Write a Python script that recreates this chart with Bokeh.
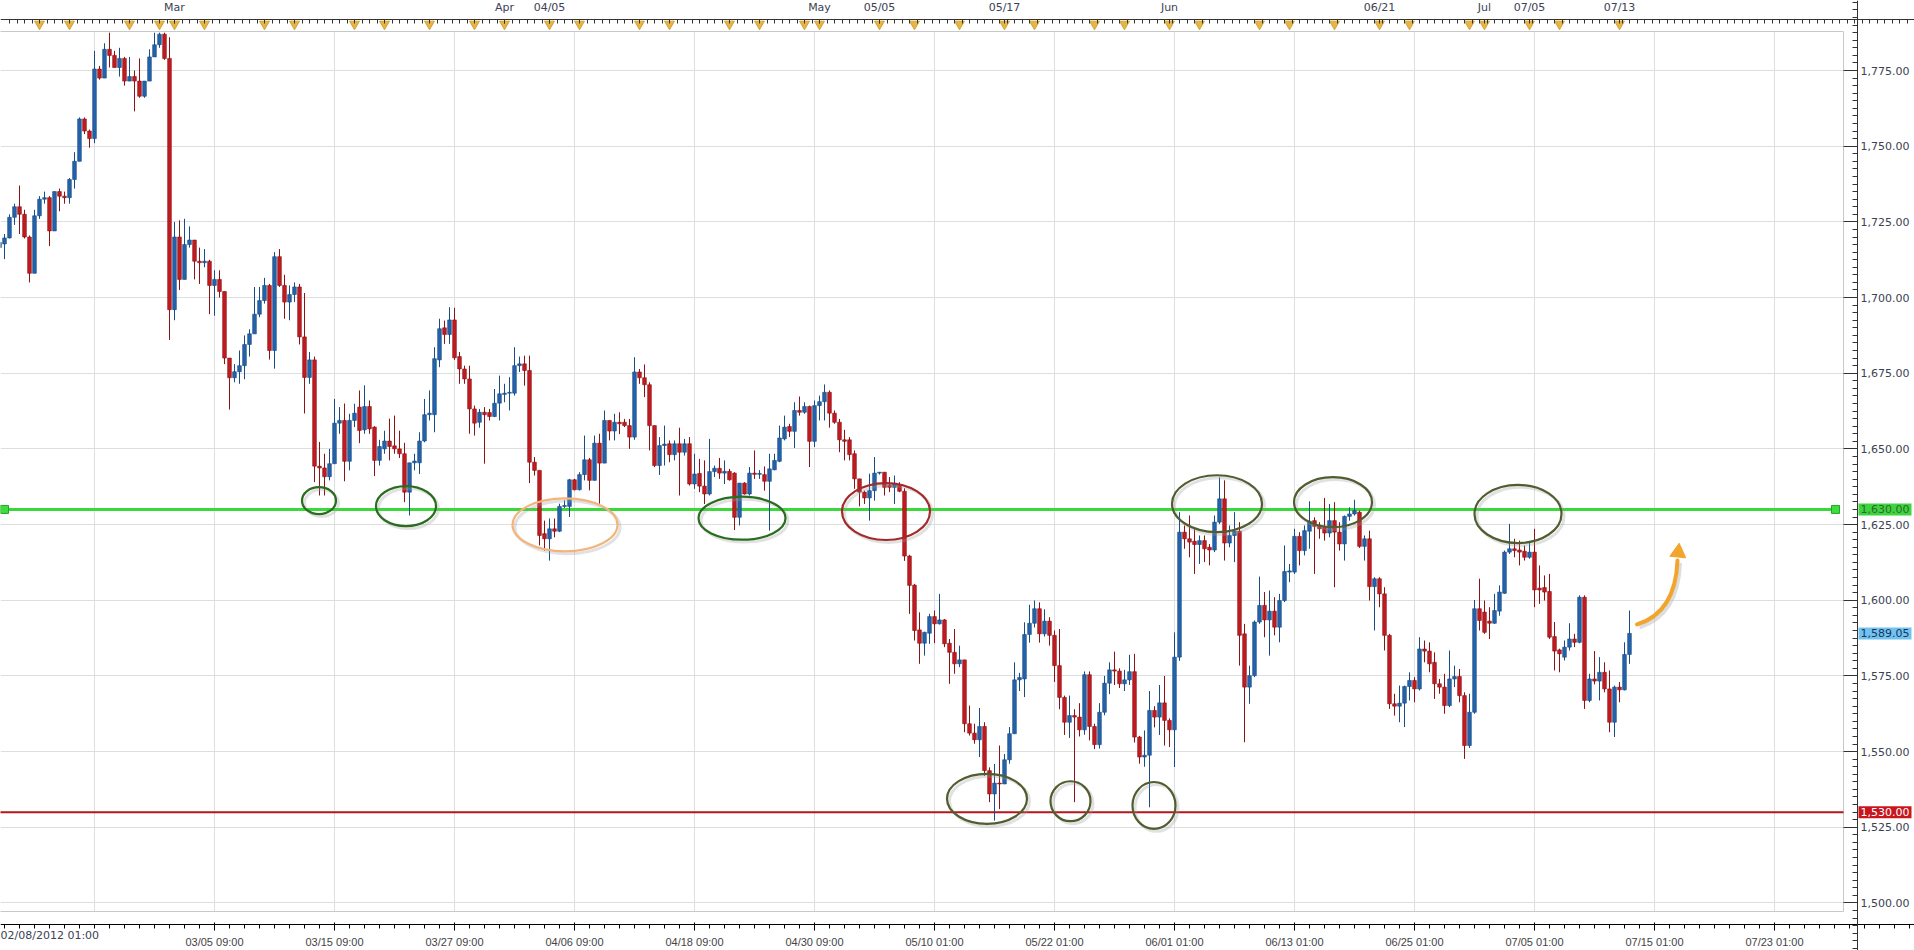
from bokeh.plotting import figure
from bokeh.models import (LinearAxis, FixedTicker, SingleIntervalTicker,
                          NumeralTickFormatter, Label, ColumnDataSource, Range1d)
from bokeh.embed import file_html
from bokeh.resources import INLINE

# ---------------- data (8-hour candles, index = candle number) ----------------
opens = [
    1716.5, 1717.7, 1719.7, 1726.5, 1730.0, 1727.5, 1720.0, 1708.0, 1727.0, 1732.5,
    1733.0, 1722.0, 1735.0, 1733.5, 1733.0, 1739.0, 1745.0, 1759.0, 1755.0, 1752.5,
    1775.5, 1772.5, 1782.0, 1780.0, 1776.0, 1779.0, 1771.5, 1773.0, 1771.5, 1766.5,
    1771.5, 1779.5, 1783.5, 1787.0, 1779.0, 1696.0, 1720.0, 1706.0, 1717.5, 1719.0,
    1712.0, 1711.5, 1712.0, 1704.0, 1706.0, 1702.0, 1680.0, 1673.5, 1675.5, 1677.5,
    1684.5, 1688.0, 1694.5, 1699.0, 1704.0, 1682.5, 1713.5, 1704.0, 1698.5, 1701.0,
    1703.5, 1687.0, 1673.6, 1679.4, 1644.3, 1643.7, 1640.8, 1645.1, 1658.5, 1659.4,
    1645.9, 1659.4, 1663.8, 1656.3, 1664.0, 1657.2, 1646.2, 1650.0, 1652.6, 1651.0,
    1650.0, 1648.4, 1635.7, 1645.4, 1645.4, 1652.6, 1661.3, 1661.3, 1679.4, 1690.0,
    1687.8, 1692.6, 1680.5, 1676.4, 1673.1, 1663.2, 1658.8, 1662.1, 1662.0, 1660.7,
    1665.1, 1668.0, 1668.4, 1668.4, 1677.5, 1678.1, 1675.9, 1645.6, 1642.9, 1622.0,
    1620.3, 1623.6, 1622.8, 1631.0, 1631.0, 1639.8, 1636.5, 1641.5, 1646.4, 1639.6,
    1651.9, 1645.3, 1659.4, 1655.9, 1658.8, 1658.8, 1657.7, 1653.9, 1675.4, 1673.5,
    1671.2, 1657.7, 1644.5, 1651.1, 1651.7, 1648.1, 1651.7, 1648.9, 1651.7, 1638.4,
    1641.9, 1637.7, 1635.1, 1642.5, 1643.6, 1642.0, 1642.6, 1642.0, 1627.4, 1638.7,
    1635.1, 1642.0, 1641.6, 1641.5, 1639.3, 1643.1, 1645.9, 1653.3, 1657.4, 1655.8,
    1662.7, 1662.1, 1664.0, 1652.5, 1664.3, 1665.6, 1668.7, 1661.8, 1658.8, 1653.0,
    1653.0, 1648.4, 1640.1, 1635.7, 1633.8, 1636.2, 1642.0, 1642.3, 1638.0, 1637.3,
    1638.2, 1636.0, 1614.6, 1605.0, 1590.2, 1585.8, 1589.1, 1594.6, 1592.2, 1593.5,
    1585.8, 1582.8, 1579.0, 1580.3, 1559.2, 1556.1, 1553.9, 1558.3, 1543.7, 1536.0,
    1539.6, 1539.3, 1547.3, 1555.9, 1573.7, 1574.0, 1588.7, 1592.4, 1597.2, 1588.9,
    1593.1, 1588.4, 1578.4, 1567.9, 1559.7, 1561.9, 1561.4, 1557.2, 1575.4, 1558.3,
    1552.3, 1563.0, 1572.6, 1577.0, 1576.6, 1572.4, 1573.7, 1576.4, 1554.8, 1548.2,
    1548.8, 1563.6, 1561.4, 1566.1, 1560.3, 1557.2, 1581.2, 1622.5, 1620.3, 1619.5,
    1618.4, 1619.7, 1617.5, 1616.6, 1625.8, 1633.5, 1618.9, 1621.4, 1622.8, 1588.9,
    1571.3, 1575.1, 1592.8, 1598.3, 1593.5, 1596.4, 1591.1, 1599.9, 1609.3, 1609.3,
    1621.1, 1616.4, 1622.8, 1626.3, 1624.7, 1624.4, 1622.2, 1626.3, 1622.5, 1618.6,
    1627.7, 1628.5, 1629.1, 1617.8, 1620.3, 1604.5, 1607.1, 1602.1, 1588.4, 1565.8,
    1565.0, 1566.0, 1571.5, 1573.5, 1570.7, 1583.9, 1583.2, 1579.5, 1572.4, 1571.3,
    1565.2, 1574.0, 1574.8, 1568.5, 1552.0, 1563.0, 1597.2, 1596.1, 1593.1, 1592.4,
    1596.4, 1602.3, 1615.9, 1617.0, 1616.6, 1616.2, 1614.2, 1615.9, 1604.0, 1604.2,
    1602.9, 1588.0, 1583.6, 1581.2, 1584.5, 1587.2, 1586.1, 1601.0, 1566.9, 1574.0,
    1573.3, 1576.2, 1570.7, 1559.7, 1571.3, 1570.4, 1582.1,
]
highs = [
    1720.0, 1721.0, 1727.5, 1731.0, 1737.0, 1729.0, 1720.5, 1729.0, 1733.5, 1735.0,
    1733.5, 1735.0, 1736.0, 1735.0, 1739.5, 1748.0, 1759.5, 1759.5, 1755.5, 1781.5,
    1776.5, 1784.0, 1787.5, 1781.5, 1782.5, 1779.5, 1779.5, 1775.0, 1779.0, 1771.5,
    1782.0, 1787.5, 1787.5, 1787.5, 1786.0, 1725.0, 1725.5, 1726.0, 1723.5, 1719.0,
    1716.5, 1716.0, 1712.5, 1709.0, 1709.0, 1702.0, 1680.0, 1678.0, 1682.5, 1687.5,
    1689.5, 1703.5, 1703.5, 1706.5, 1704.5, 1715.0, 1716.0, 1707.5, 1704.0, 1705.0,
    1704.5, 1701.5, 1682.0, 1680.5, 1652.3, 1648.4, 1650.0, 1666.5, 1663.8, 1665.0,
    1661.6, 1664.9, 1669.3, 1671.0, 1666.0, 1657.5, 1653.0, 1656.0, 1660.0, 1661.0,
    1656.0, 1652.0, 1645.4, 1648.4, 1655.5, 1666.5, 1669.3, 1683.6, 1693.0, 1692.4,
    1696.8, 1696.6, 1682.0, 1677.5, 1677.5, 1664.3, 1663.2, 1663.8, 1663.2, 1669.8,
    1674.2, 1671.5, 1673.7, 1683.6, 1680.5, 1680.8, 1680.8, 1647.3, 1642.9, 1626.3,
    1627.0, 1627.0, 1631.9, 1633.0, 1640.1, 1640.1, 1642.3, 1654.4, 1647.0, 1654.4,
    1655.0, 1662.7, 1659.4, 1661.6, 1662.1, 1659.9, 1659.9, 1680.3, 1676.4, 1677.9,
    1672.0, 1657.7, 1653.9, 1657.7, 1652.8, 1652.8, 1657.0, 1653.3, 1653.9, 1648.4,
    1646.7, 1646.2, 1653.3, 1644.5, 1647.0, 1646.2, 1643.4, 1642.3, 1638.7, 1639.0,
    1644.0, 1649.5, 1643.0, 1644.2, 1648.4, 1648.4, 1657.7, 1661.0, 1658.3, 1665.4,
    1667.3, 1665.4, 1664.3, 1666.0, 1667.6, 1671.3, 1669.3, 1662.7, 1659.9, 1656.3,
    1653.9, 1649.5, 1640.1, 1636.2, 1641.8, 1647.3, 1642.3, 1642.3, 1640.7, 1641.2,
    1639.0, 1637.0, 1615.0, 1605.4, 1596.0, 1589.6, 1595.5, 1596.6, 1602.1, 1593.8,
    1587.2, 1590.5, 1585.0, 1580.3, 1565.2, 1559.2, 1564.4, 1559.7, 1544.8, 1545.9,
    1552.0, 1549.2, 1558.1, 1579.5, 1576.0, 1592.7, 1598.5, 1599.9, 1599.3, 1597.0,
    1594.4, 1590.0, 1590.5, 1568.5, 1568.5, 1564.0, 1566.0, 1576.5, 1576.5, 1559.2,
    1566.0, 1575.0, 1579.5, 1583.0, 1577.5, 1577.0, 1582.0, 1582.3, 1555.2, 1557.0,
    1570.0, 1565.0, 1572.0, 1575.0, 1561.0, 1589.4, 1629.1, 1624.7, 1628.0, 1624.0,
    1621.4, 1621.4, 1618.6, 1628.0, 1640.6, 1639.6, 1624.7, 1629.1, 1625.8, 1592.2,
    1578.4, 1593.3, 1607.8, 1602.7, 1603.2, 1601.0, 1602.1, 1618.1, 1612.0, 1623.6,
    1622.5, 1624.7, 1632.7, 1627.4, 1625.8, 1633.8, 1631.8, 1632.4, 1625.8, 1628.0,
    1630.7, 1633.2, 1629.6, 1621.4, 1623.0, 1607.6, 1607.6, 1604.3, 1588.9, 1569.1,
    1571.8, 1571.8, 1576.2, 1574.6, 1587.8, 1586.7, 1586.1, 1582.8, 1574.0, 1575.7,
    1583.4, 1578.4, 1577.3, 1569.6, 1569.1, 1600.1, 1607.1, 1599.9, 1597.7, 1602.1,
    1604.9, 1616.4, 1625.2, 1620.3, 1619.7, 1618.1, 1619.2, 1623.6, 1611.5, 1608.2,
    1608.7, 1592.8, 1584.0, 1586.7, 1592.4, 1588.9, 1601.6, 1601.6, 1575.7, 1583.2,
    1581.2, 1579.5, 1576.8, 1571.8, 1573.0, 1586.1, 1596.6,
]
lows = [
    1714.0, 1712.7, 1719.5, 1724.0, 1721.0, 1719.5, 1705.0, 1708.0, 1726.0, 1731.0,
    1717.0, 1722.0, 1728.5, 1731.0, 1731.0, 1736.0, 1745.0, 1754.0, 1749.5, 1751.0,
    1772.0, 1772.5, 1776.0, 1776.0, 1773.0, 1770.0, 1771.5, 1761.5, 1766.0, 1766.0,
    1771.5, 1779.5, 1782.5, 1778.5, 1686.0, 1692.5, 1702.5, 1706.0, 1716.5, 1706.0,
    1704.5, 1710.0, 1694.5, 1694.0, 1700.0, 1678.0, 1663.0, 1672.0, 1671.5, 1673.0,
    1680.5, 1688.0, 1693.5, 1698.0, 1679.5, 1676.5, 1703.5, 1693.0, 1692.5, 1698.5,
    1684.5, 1661.7, 1671.5, 1639.0, 1634.6, 1634.6, 1639.6, 1645.1, 1655.0, 1639.3,
    1642.9, 1657.2, 1651.9, 1655.0, 1655.0, 1641.0, 1644.5, 1648.4, 1646.2, 1648.4,
    1647.0, 1632.4, 1628.0, 1642.9, 1641.7, 1652.2, 1659.4, 1655.5, 1677.0, 1684.7,
    1684.7, 1679.4, 1671.5, 1671.5, 1655.0, 1654.4, 1657.0, 1645.1, 1659.4, 1660.5,
    1659.4, 1665.4, 1662.7, 1667.6, 1675.4, 1670.9, 1638.7, 1641.2, 1618.1, 1616.4,
    1613.1, 1620.8, 1622.5, 1630.5, 1627.5, 1636.3, 1636.3, 1639.6, 1636.3, 1639.6,
    1631.9, 1645.3, 1652.8, 1652.8, 1654.9, 1657.2, 1650.0, 1653.0, 1671.5, 1667.1,
    1649.5, 1644.0, 1641.4, 1644.5, 1645.6, 1646.2, 1634.6, 1647.8, 1637.9, 1636.8,
    1635.7, 1631.8, 1634.6, 1640.7, 1640.1, 1638.4, 1639.5, 1623.2, 1624.7, 1634.9,
    1634.6, 1640.1, 1640.1, 1636.2, 1623.0, 1642.9, 1645.6, 1652.8, 1653.9, 1650.3,
    1661.0, 1661.6, 1644.0, 1650.6, 1659.4, 1659.4, 1657.0, 1658.3, 1648.9, 1646.2,
    1646.2, 1636.8, 1631.0, 1631.8, 1626.3, 1632.9, 1641.5, 1634.6, 1635.7, 1631.8,
    1635.7, 1613.0, 1595.5, 1586.7, 1579.0, 1581.7, 1585.6, 1585.8, 1592.0, 1584.5,
    1572.4, 1575.7, 1577.9, 1556.4, 1555.3, 1552.6, 1548.2, 1542.0, 1533.3, 1527.2,
    1531.0, 1539.3, 1546.0, 1555.9, 1570.0, 1568.0, 1586.0, 1591.0, 1586.0, 1588.0,
    1585.0, 1573.0, 1564.0, 1555.5, 1554.5, 1533.3, 1555.0, 1555.6, 1553.7, 1550.8,
    1551.0, 1562.0, 1569.0, 1572.0, 1571.0, 1570.0, 1572.0, 1553.0, 1546.0, 1545.0,
    1531.6, 1558.0, 1555.5, 1552.0, 1551.5, 1544.9, 1580.0, 1617.0, 1614.2, 1608.7,
    1612.0, 1612.6, 1611.5, 1615.9, 1625.2, 1613.1, 1617.5, 1612.6, 1578.4, 1553.1,
    1565.8, 1574.6, 1592.2, 1587.8, 1581.7, 1588.4, 1586.1, 1599.4, 1606.0, 1608.7,
    1611.5, 1614.8, 1617.0, 1608.7, 1620.3, 1619.7, 1620.8, 1604.3, 1616.4, 1613.1,
    1626.3, 1628.0, 1617.3, 1613.1, 1599.9, 1590.0, 1597.7, 1583.4, 1564.1, 1561.9,
    1559.7, 1558.1, 1566.9, 1566.3, 1570.2, 1579.5, 1576.2, 1567.4, 1569.1, 1562.5,
    1564.7, 1571.3, 1566.3, 1547.6, 1551.2, 1562.5, 1590.0, 1588.9, 1587.2, 1592.2,
    1594.9, 1602.1, 1615.3, 1614.2, 1611.5, 1613.1, 1613.7, 1597.7, 1598.8, 1599.9,
    1587.2, 1576.8, 1576.2, 1580.1, 1583.4, 1584.5, 1585.8, 1564.1, 1566.3, 1572.2,
    1566.9, 1569.6, 1556.4, 1554.8, 1566.3, 1570.2, 1579.0,
]
closes = [
    1718.2, 1719.7, 1726.5, 1730.0, 1727.5, 1720.0, 1708.0, 1727.0, 1732.5, 1733.0,
    1722.0, 1735.0, 1733.5, 1733.0, 1739.0, 1745.0, 1759.0, 1755.0, 1752.5, 1775.5,
    1772.5, 1782.0, 1780.0, 1776.0, 1779.0, 1771.5, 1773.0, 1771.5, 1766.5, 1771.5,
    1779.5, 1783.5, 1787.0, 1779.0, 1696.0, 1720.0, 1706.0, 1717.5, 1719.0, 1712.0,
    1711.5, 1712.0, 1704.0, 1706.0, 1702.0, 1680.0, 1673.5, 1675.5, 1677.5, 1684.5,
    1688.0, 1694.5, 1699.0, 1704.0, 1682.5, 1713.5, 1704.0, 1698.5, 1701.0, 1703.5,
    1687.0, 1673.6, 1679.4, 1644.3, 1643.7, 1640.8, 1645.1, 1658.5, 1659.4, 1645.9,
    1659.4, 1661.8, 1656.1, 1664.0, 1656.6, 1646.2, 1650.8, 1652.6, 1650.8, 1650.0,
    1648.4, 1635.7, 1645.4, 1646.0, 1652.6, 1661.3, 1661.8, 1679.8, 1689.7, 1687.8,
    1692.6, 1680.1, 1676.4, 1673.1, 1663.2, 1658.5, 1662.1, 1661.3, 1660.7, 1665.1,
    1668.2, 1668.4, 1668.7, 1677.5, 1678.1, 1675.9, 1645.6, 1642.9, 1621.4, 1620.3,
    1623.6, 1622.8, 1631.0, 1631.3, 1639.8, 1636.5, 1641.5, 1646.4, 1639.6, 1651.9,
    1645.3, 1659.4, 1655.9, 1658.8, 1658.3, 1657.7, 1653.9, 1675.4, 1673.5, 1671.2,
    1657.7, 1644.5, 1651.1, 1651.6, 1648.1, 1651.7, 1648.9, 1651.7, 1638.4, 1641.7,
    1637.7, 1635.1, 1642.5, 1643.6, 1642.0, 1642.6, 1639.8, 1627.4, 1638.7, 1635.1,
    1642.0, 1641.6, 1641.9, 1639.3, 1643.4, 1646.2, 1653.6, 1657.2, 1655.8, 1662.7,
    1662.1, 1664.0, 1652.5, 1664.3, 1665.6, 1668.7, 1661.8, 1658.8, 1653.0, 1652.5,
    1648.1, 1640.1, 1635.7, 1633.8, 1636.2, 1642.0, 1642.3, 1637.3, 1637.3, 1638.4,
    1636.0, 1614.6, 1604.9, 1590.0, 1585.8, 1589.4, 1594.6, 1592.2, 1593.5, 1585.6,
    1582.8, 1579.0, 1580.3, 1559.2, 1556.1, 1553.9, 1558.3, 1543.7, 1536.0, 1539.6,
    1539.3, 1547.3, 1555.9, 1573.7, 1574.5, 1588.7, 1592.4, 1597.2, 1588.9, 1593.1,
    1588.4, 1578.4, 1567.9, 1559.7, 1561.9, 1561.4, 1557.2, 1575.4, 1558.3, 1552.3,
    1563.0, 1572.6, 1577.0, 1576.6, 1572.4, 1573.7, 1576.4, 1554.8, 1548.2, 1548.8,
    1563.6, 1561.4, 1566.1, 1560.3, 1557.2, 1581.2, 1622.5, 1620.3, 1619.2, 1618.4,
    1619.7, 1617.0, 1616.6, 1625.8, 1633.5, 1618.9, 1621.4, 1622.8, 1588.4, 1571.3,
    1575.1, 1592.8, 1598.3, 1593.5, 1596.4, 1591.1, 1599.9, 1609.5, 1609.7, 1621.1,
    1616.4, 1623.0, 1626.1, 1624.4, 1623.6, 1622.2, 1626.3, 1622.5, 1618.6, 1627.7,
    1628.5, 1629.6, 1617.8, 1620.3, 1604.5, 1607.1, 1602.1, 1588.4, 1565.8, 1565.0,
    1566.0, 1571.5, 1573.5, 1570.7, 1583.9, 1583.2, 1579.0, 1572.4, 1571.3, 1565.2,
    1574.0, 1574.8, 1568.5, 1552.0, 1563.0, 1597.2, 1593.3, 1589.4, 1592.4, 1596.6,
    1602.7, 1615.9, 1617.0, 1616.4, 1615.9, 1614.2, 1615.9, 1603.4, 1603.4, 1602.7,
    1587.8, 1583.2, 1582.3, 1584.5, 1587.2, 1586.1, 1601.0, 1566.9, 1574.0, 1573.3,
    1576.2, 1570.7, 1559.7, 1571.3, 1570.4, 1582.1, 1589.05,
]

# bottom time axis (candle index of each labelled tick)
grid_idx = [19, 43, 67, 91, 115, 139, 163, 187, 211, 235, 259, 283, 307, 331, 355]
x_tick_idx = [43, 67, 91, 115, 139, 163, 187, 211, 235, 259, 283, 307, 331, 355]
x_tick_labels = ["03/05 09:00", "03/15 09:00", "03/27 09:00", "04/06 09:00",
                 "04/18 09:00", "04/30 09:00", "05/10 01:00", "05/22 01:00",
                 "06/01 01:00", "06/13 01:00", "06/25 01:00", "07/05 01:00",
                 "07/15 01:00", "07/23 01:00"]
first_label = "02/08/2012 01:00"

# top calendar strip
month_idx = [35, 101, 110, 164, 176, 201, 234, 276, 297, 306, 324]
month_labels = ["Mar", "Apr", "04/05", "May", "05/05", "05/17", "Jun",
                "06/21", "Jul", "07/05", "07/13"]
event_idx = [8, 14, 26, 32, 35, 41, 53, 59, 71, 77, 86, 95, 101, 110, 116, 128,
             134, 146, 152, 161, 164, 176, 183, 192, 201, 207, 219, 225, 234, 240,
             252, 258, 267, 276, 282, 294, 297, 306, 312, 324]

# horizontal levels
resistance = 1630.0
support = 1530.0
last_price = closes[-1]

# highlighted zones (candle index, price, width in candles, height in price)
zone_x = [63.9, 81.3, 113.1, 148.5, 177.3, 197.5, 214.2, 230.9, 243.5, 266.7, 303.7]
zone_y = [1632.9, 1631.1, 1624.9, 1627.1, 1629.3, 1534.4, 1533.6, 1532.2, 1631.9, 1632.4, 1628.5]
zone_w = [6.8, 12.0, 21.0, 17.4, 17.6, 16.0, 8.0, 8.6, 18.0, 15.6, 17.4]
zone_h = [8.9, 13.2, 17.5, 14.2, 18.8, 16.5, 13.2, 15.5, 18.8, 16.5, 19.2]
zone_color = ["#2b6d20", "#2b6d20", "#f2b47c", "#2b6d20", "#a12a2a", "#4f5d2f",
              "#4f5d2f", "#4f5d2f", "#4f5d2f", "#4f5d2f", "#4f5d2f"]

# ---------------- layout constants ----------------
W, H = 1914, 950
X0, X1 = 0.2, 383.0            # candle-index range across the whole canvas
Y0, Y1 = 1484.29, 1798.13      # price range across the whole canvas
AXIS_X = 371.6                 # right axis line
AXIS_TOP = 1791.85             # top strip axis line
AXIS_BOT = 1492.87             # bottom axis line
BORDER_X = 368.8
BORDER_TOP = 1787.88
BORDER_BOT = 1497.17
EVENT_Y = 1790.36

FONT = "DejaVu Sans"
TXT = "#3b4252"
BLUE, BLUE_W = "#2462aa", "#1a4c86"
RED, RED_W = "#c01b20", "#8c1216"

n = min(len(opens), len(highs), len(lows), len(closes))
idx = list(range(n))
up = [closes[k] >= opens[k] for k in idx]
src = ColumnDataSource(dict(
    x=idx, h=highs[:n], l=lows[:n],
    top=[max(opens[k], closes[k]) for k in idx],
    bot=[min(opens[k], closes[k]) for k in idx],
    fill=[BLUE if u else RED for u in up],
    wick=[BLUE_W if u else RED_W for u in up],
))

p = figure(width=W, height=H, x_range=Range1d(X0, X1), y_range=Range1d(Y0, Y1),
           y_axis_location="right", toolbar_location=None, output_backend="svg",
           min_border_left=0, min_border_right=0, min_border_top=0,
           min_border_bottom=0, background_fill_color="white",
           border_fill_color="white", outline_line_color=None)

# axes (drawn at fixed positions inside the canvas)
x_ticker = FixedTicker(ticks=x_tick_idx, minor_ticks=list(range(1, 383, 3)))
p.xaxis.ticker = x_ticker
p.xaxis.major_label_overrides = {t: s for t, s in zip(x_tick_idx, x_tick_labels)}
p.xaxis.fixed_location = AXIS_BOT
y_ticker = SingleIntervalTicker(interval=25, num_minor_ticks=10)
p.yaxis.ticker = y_ticker
p.yaxis.formatter = NumeralTickFormatter(format="0,0.00")
p.yaxis.fixed_location = AXIS_X

top_axis = LinearAxis(ticker=FixedTicker(ticks=month_idx,
                                         minor_ticks=[2 + 1.5 * k for k in range(254)]),
                      major_label_overrides={t: s for t, s in zip(month_idx, month_labels)},
                      fixed_location=AXIS_TOP)
p.add_layout(top_axis, "above")

for ax, tin, mtin, so in ((p.xaxis[0], 13, 5, 11), (p.yaxis[0], 14, 5, 3), (top_axis, 4, 4, 6)):
    ax.axis_line_color = "#333333"
    ax.major_tick_line_color = "#333333"
    ax.minor_tick_line_color = "#333333"
    ax.major_tick_in = tin
    ax.major_tick_out = 0
    ax.minor_tick_in = mtin
    ax.minor_tick_out = 0
    ax.major_label_standoff = so
    ax.major_label_text_font = FONT
    ax.major_label_text_font_size = "11px"
    ax.major_label_text_color = TXT

p.xgrid.ticker = FixedTicker(ticks=grid_idx)
p.ygrid.ticker = y_ticker
p.xgrid.grid_line_color = "#dedede"
p.ygrid.grid_line_color = "#dedede"

# masks hiding grid outside the plot border + plot border
p.quad(left=[X0 - 2, X0 - 2, BORDER_X], right=[X1 + 2, X1 + 2, X1 + 2],
       bottom=[BORDER_TOP, Y0 - 5, Y0 - 5], top=[Y1 + 5, BORDER_BOT, Y1 + 5],
       fill_color="white", line_color=None)
p.line(x=[X0 - 2, BORDER_X, BORDER_X, X0 - 2],
       y=[BORDER_TOP, BORDER_TOP, BORDER_BOT, BORDER_BOT],
       line_color="#c8c8c8", line_width=1)

# level lines
p.line(x=[X0 - 2, BORDER_X], y=[support, support], line_color="#b3161c", line_width=2)
p.line(x=[1.0, 367.2], y=[resistance, resistance], line_color="#3ad83a", line_width=3)
p.scatter(x=[1.0, 367.2], y=[resistance, resistance], marker="square", size=8,
          fill_color="#3ddd3d", line_color="#27a327")

# candles
p.segment(x0="x", y0="h", x1="x", y1="l", line_color="wick", line_width=1, source=src)
p.vbar(x="x", width=0.74, top="top", bottom="bot", fill_color="fill",
       line_color="wick", line_width=0.6, source=src)

# zones (with soft shadow)
p.ellipse(x=[v + 0.5 for v in zone_x], y=[v - 0.8 for v in zone_y], width=zone_w,
          height=zone_h, fill_color=None, line_color="#9a9a9a", line_alpha=0.3, line_width=3)
p.ellipse(x=zone_x, y=zone_y, width=zone_w, height=zone_h, fill_color=None,
          line_color=zone_color, line_width=2.2)

# arrow
p.quadratic(x0=[328.0], y0=[1591.2], x1=[336.0], y1=[1612.3], cx=[335.6], cy=[1595.1],
            line_color="#bbbbbb", line_alpha=0.5, line_width=5)
p.quadratic(x0=[327.5], y0=[1592.0], x1=[335.6], y1=[1613.1], cx=[335.2], cy=[1595.9],
            line_color="#f2a52c", line_width=4, line_cap="round")
p.scatter(x=[335.75], y=[1615.8], marker="triangle", size=16, angle=-0.1,
          fill_color="#f2a52c", line_color="#f2a52c")

# event markers on the top strip
p.scatter(x=event_idx, y=[EVENT_Y] * len(event_idx), marker="inverted_triangle", size=10,
          fill_color="#e8b542", line_color="#c9982c", line_width=0.8)

# price tags on the right axis
for val, bg, fg in ((resistance, "#3fd43f", "#2d6a2d"),
                    (support, "#c8161d", "#ffffff"),
                    (last_price, "#72c2f0", "#16365e")):
    p.add_layout(Label(x=AXIS_X, y=val, x_offset=1, text="{:,.2f}".format(val),
                       text_font=FONT, text_font_size="11px", text_color=fg,
                       text_baseline="middle", text_align="left",
                       background_fill_color=bg, padding=2))

p.add_layout(Label(x=X0, y=AXIS_BOT, y_offset=-11, text=first_label,
                   text_font=FONT, text_font_size="11px", text_color=TXT,
                   text_baseline="hanging", text_align="left"))

open("out.html", "w").write(file_html(p, INLINE))
